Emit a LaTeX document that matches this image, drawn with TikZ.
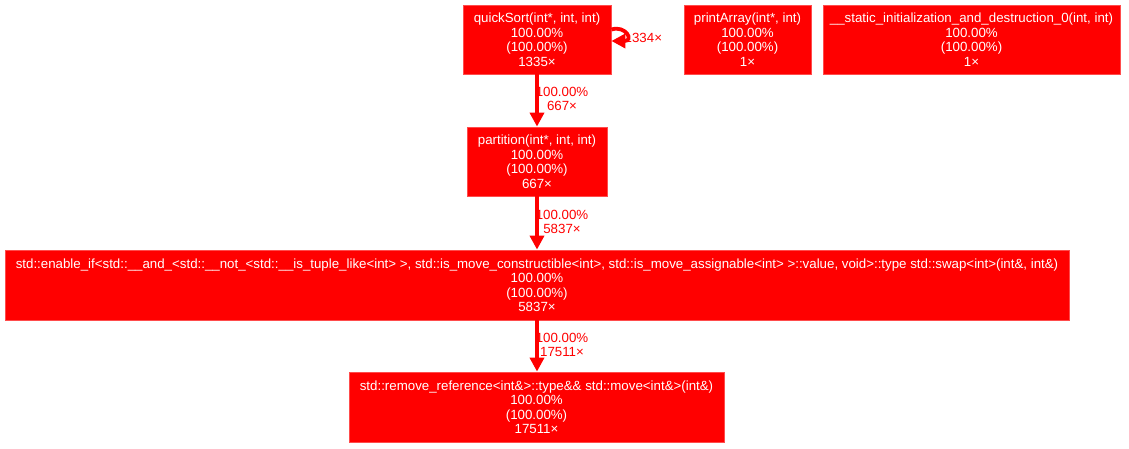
\documentclass[tikz,border=0pt]{standalone}
\usepackage{fontspec}
\setmainfont{Liberation Sans}
\usetikzlibrary{arrows.meta}
\definecolor{gvred}{HTML}{FF0000}
\tikzset{
  fnbox/.style={fill=gvred, draw=gvred!70!white, line width=0.8pt, text=white, align=center, inner sep=0pt,
    font=\fontsize{13.3}{14.5}\selectfont},
  edge/.style={draw=gvred, line width=3.8pt, -{Triangle[length=14pt,width=14pt]}},
  elabel/.style={text=gvred, align=center, inner sep=0pt, font=\fontsize{13.3}{14.5}\selectfont}
}
\begin{document}
\begin{tikzpicture}[x=1pt,y=-1pt]
\useasboundingbox (0,0) rectangle (1129,448);
\node[fnbox, minimum width=148pt, minimum height=69pt] (qs) at (537,39.5)
  {quickSort(int*, int, int)\\100.00\%\\(100.00\%)\\1335×};
\node[fnbox, minimum width=127pt, minimum height=69pt] (pa) at (747.5,39.5)
  {printArray(int*, int)\\100.00\%\\(100.00\%)\\1×};
\node[fnbox, minimum width=297pt, minimum height=69pt] (si) at (971.5,39.5)
  {\_\_static\_initialization\_and\_destruction\_0(int, int)\\100.00\%\\(100.00\%)\\1×};
\node[fnbox, minimum width=140pt, minimum height=69pt] (pt) at (537,161.5)
  {partition(int*, int, int)\\100.00\%\\(100.00\%)\\667×};
\node[fnbox, minimum width=1064pt, minimum height=70pt] (sw) at (537,285)
  {std::enable\_if<std::\_\_and\_<std::\_\_not\_<std::\_\_is\_tuple\_like<int> >, std::is\_move\_constructible<int>, std::is\_move\_assignable<int> >::value, void>::type std::swap<int>(int\&, int\&)\\100.00\%\\(100.00\%)\\5837×};
\node[fnbox, minimum width=375pt, minimum height=70pt] (mv) at (536.5,407)
  {std::remove\_reference<int\&>::type\&\& std::move<int\&>(int\&)\\100.00\%\\(100.00\%)\\17511×};

\draw[edge] (qs.south) -- (pt.north);
\node[elabel] (l1) at (562,99) {100.00\%\\667×};
\draw[edge] (pt.south) -- (pt.south |- sw.north);
\node[elabel] (l2) at (562,222) {100.00\%\\5837×};
\draw[edge] (sw.south -| pt.south) -- (pt.south |- mv.north);
\node[elabel] (l3) at (562,345) {100.00\%\\17511×};

\coordinate (ls) at ([yshift=10pt]qs.east);
\coordinate (le) at ([yshift=-1.5pt]qs.east);
\draw[edge] (ls) .. controls (626,25) and (634,41) .. (le);
\node[elabel, anchor=west] (l0) at (624.5,38) {1334×};
\end{tikzpicture}
\end{document}
